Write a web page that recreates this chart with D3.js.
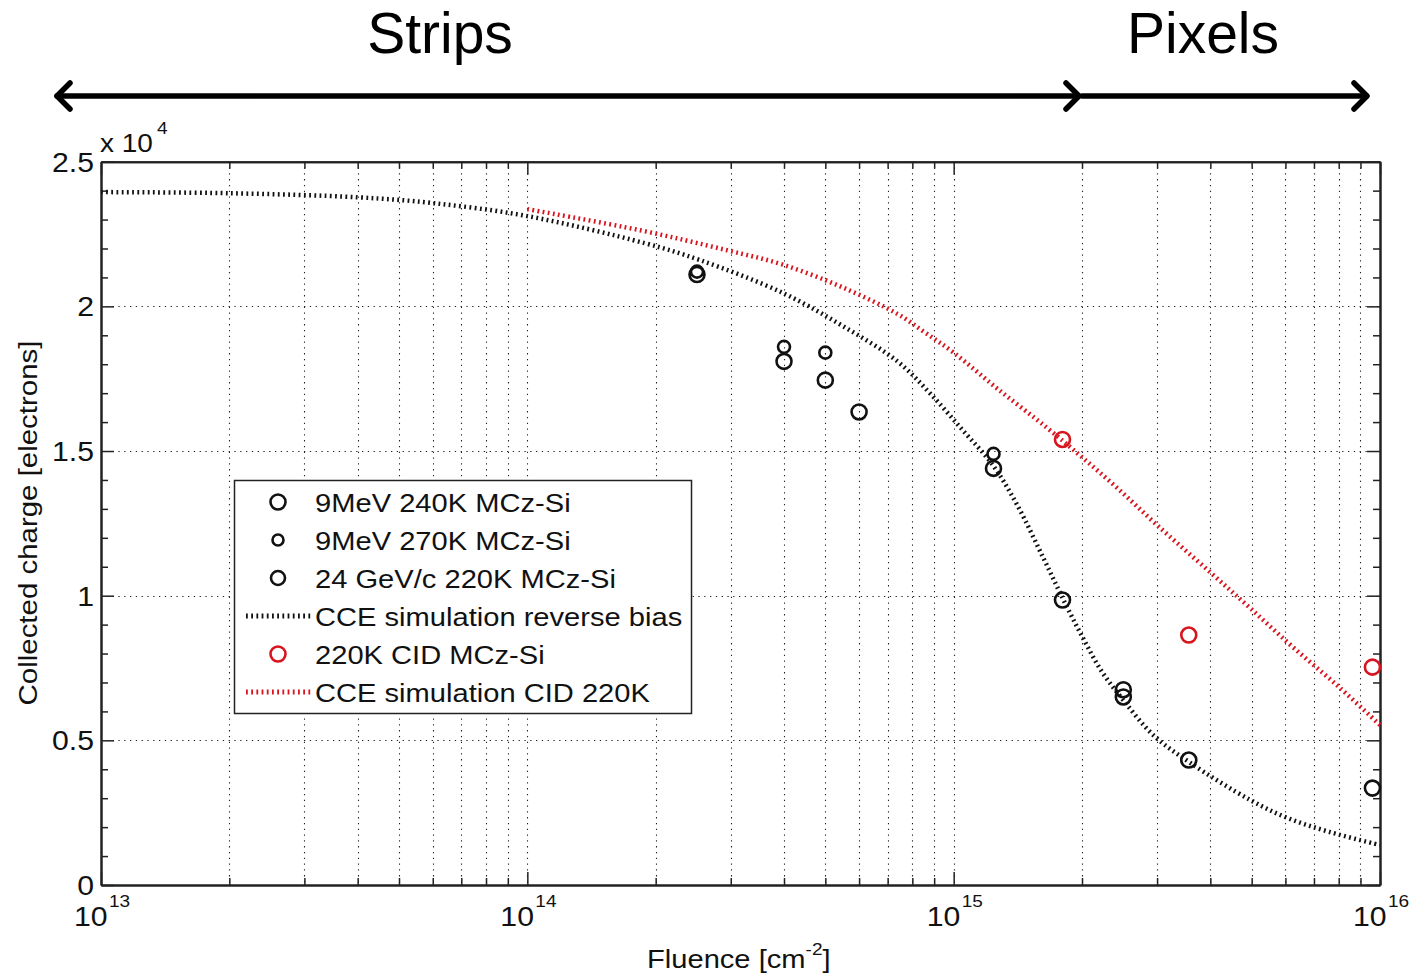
<!DOCTYPE html>
<html>
<head>
<meta charset="utf-8">
<script src="https://cdn.jsdelivr.net/npm/d3@7"></script>
<style>
  body { margin: 0; background: #fff; }
  svg { display: block; }
</style>
</head>
<body>
<div id="canvas"></div>
<script>
// Constants
const w = 1411;
const h = 977;
const plotLeft = 101, plotRight = 1380, plotTop = 161.7, plotBottom = 885;
const font = "'Liberation Sans', Arial, sans-serif";
const stretch = 1.12;

// Data: [fluence cm^-2, collected charge electrons]
const mev240 = [[2.5e14, 21100], [4e14, 18100], [5e14, 17450], [6e14, 16350], [1.24e15, 14400]];
const mev270 = [[2.5e14, 21200], [4e14, 18600], [5e14, 18400], [1.24e15, 14900]];
const gev220 = [[1.8e15, 9850], [2.5e15, 6750], [2.5e15, 6500], [3.56e15, 4320], [9.6e15, 3350]];
const cid220 = [[1.8e15, 15400], [3.56e15, 8640], [9.6e15, 7530]];
const simReverse = [
  [1e13, 23950], [2e13, 23910], [4e13, 23770], [6e13, 23570], [1e14, 23120],
  [1.89e14, 22180], [2.54e14, 21600], [3.98e14, 20460], [5.48e14, 19330], [7.38e14, 18100],
  [8.82e14, 16980], [1.05e15, 15720], [1.236e15, 14510], [1.41e15, 13130], [1.62e15, 11330],
  [1.81e15, 9850], [2.01e15, 8540], [2.23e15, 7360], [2.5e15, 6390], [2.94e15, 5180],
  [3.59e15, 4220], [4.96e15, 2940], [6.06e15, 2320], [7.63e15, 1830], [1e16, 1380]
];
const simCID = [
  [1e14, 23360], [1.84e14, 22630], [2.94e14, 21940], [3.98e14, 21440], [5.48e14, 20660],
  [7.38e14, 19740], [8.54e14, 19110], [1e15, 18400], [1.28e15, 17100], [1.66e15, 15790],
  [2.01e15, 14760], [2.42e15, 13720], [3e15, 12440], [3.99e15, 10820], [4.96e15, 9570],
  [6.25e15, 8220], [8.06e15, 6810], [1e16, 5530]
];
const yTicks = [0, 5000, 10000, 15000, 20000, 25000];
const decades = [13, 14, 15, 16];
const legendLabels = [
  "9MeV 240K MCz-Si", "9MeV 270K MCz-Si", "24 GeV/c 220K MCz-Si",
  "CCE simulation reverse bias", "220K CID MCz-Si", "CCE simulation CID 220K"
];

const red = "#d8141e";

const x = d3.scaleLog().domain([1e13, 1e16]).range([plotLeft, plotRight]);
const y = d3.scaleLinear().domain([0, 25000]).range([plotBottom, plotTop]);

const minorX = [];
decades.slice(0, -1).forEach(d => {
  for (let k = 2; k <= 9; k++) minorX.push(k * Math.pow(10, d));
});
const minorY = d3.range(0, 25001, 1000).filter(v => v % 5000 !== 0);

const svg = d3.select("#canvas").append("svg")
  .attr("width", w)
  .attr("height", h)
  .style("background-color", "white");

// Grid
const grid = svg.append("g")
  .attr("stroke", "#222")
  .attr("stroke-width", 1.1)
  .attr("stroke-dasharray", "1.3,4.5");
grid.selectAll(".vx").data(minorX.concat(decades.slice(1, -1).map(d => Math.pow(10, d))))
  .join("line")
  .attr("x1", d => Math.round(x(d)) + 0.5).attr("x2", d => Math.round(x(d)) + 0.5)
  .attr("y1", plotTop).attr("y2", plotBottom);
grid.selectAll(".hy").data(yTicks.slice(1, -1))
  .join("line")
  .attr("y1", d => Math.round(y(d)) + 0.5).attr("y2", d => Math.round(y(d)) + 0.5)
  .attr("x1", plotLeft).attr("x2", plotRight);

// Axes (ticks pointing inward, mirrored)
function styleAxis(g) {
  g.select(".domain").attr("stroke", "#222").attr("stroke-width", 2);
  g.selectAll(".tick line").attr("stroke", "#222").attr("stroke-width", 1.5);
  g.selectAll(".tick text").remove();
}
const majorX = decades.map(d => Math.pow(10, d));
svg.append("g").attr("transform", `translate(0,${plotBottom})`)
  .call(d3.axisBottom(x).tickValues(majorX).tickSize(-13).tickSizeOuter(0)).call(styleAxis);
svg.append("g").attr("transform", `translate(0,${plotBottom})`)
  .call(d3.axisBottom(x).tickValues(minorX).tickSize(-7).tickSizeOuter(0)).call(styleAxis);
svg.append("g").attr("transform", `translate(0,${plotTop})`)
  .call(d3.axisTop(x).tickValues(majorX).tickSize(-13).tickSizeOuter(0)).call(styleAxis);
svg.append("g").attr("transform", `translate(0,${plotTop})`)
  .call(d3.axisTop(x).tickValues(minorX).tickSize(-7).tickSizeOuter(0)).call(styleAxis);
svg.append("g").attr("transform", `translate(${plotLeft},0)`)
  .call(d3.axisLeft(y).tickValues(yTicks).tickSize(-13).tickSizeOuter(0)).call(styleAxis);
svg.append("g").attr("transform", `translate(${plotLeft},0)`)
  .call(d3.axisLeft(y).tickValues(minorY).tickSize(-7).tickSizeOuter(0)).call(styleAxis);
svg.append("g").attr("transform", `translate(${plotRight},0)`)
  .call(d3.axisRight(y).tickValues(yTicks).tickSize(-13).tickSizeOuter(0)).call(styleAxis);
svg.append("g").attr("transform", `translate(${plotRight},0)`)
  .call(d3.axisRight(y).tickValues(minorY).tickSize(-7).tickSizeOuter(0)).call(styleAxis);

// Text helper with horizontal stretch
function label(px, py, str, size, anchor, rot) {
  return svg.append("text")
    .attr("transform", `translate(${px},${py})` + (rot ? ` rotate(${rot})` : "") + ` scale(${stretch},1)`)
    .attr("text-anchor", anchor || "start")
    .style("font-family", font)
    .style("font-size", size + "px")
    .attr("fill", "#111")
    .text(str);
}

// Y tick labels
yTicks.forEach(v => {
  label(94, y(v) + 10, d3.format("~g")(v / 1e4), 27, "end");
});
// Exponent
label(100, 152, "x 10", 25, "start");
label(157, 134, "4", 17, "start");

// X tick labels
decades.forEach(d => {
  const cx = x(Math.pow(10, d));
  label(cx - 27, 926, "10", 27, "start");
  label(cx + 8, 907, String(d), 17, "start");
});

// Axis titles
const xt = label(647, 968, "Fluence [cm", 26, "start");
xt.append("tspan").attr("dy", -13).style("font-size", "17px").text("-2");
xt.append("tspan").attr("dy", 13).text("]");
label(37, 523, "Collected charge [electrons]", 26.3, "middle", -90);

// Simulation curves
const line = d3.line().x(d => x(d[0])).y(d => y(d[1])).curve(d3.curveCatmullRom.alpha(0.5));
svg.append("path").datum(simReverse)
  .attr("d", line).attr("fill", "none")
  .attr("stroke", "#111").attr("stroke-width", 4.5).attr("stroke-dasharray", "1.8,3.4");
svg.append("path").datum(simCID)
  .attr("d", line).attr("fill", "none")
  .attr("stroke", red).attr("stroke-width", 4.5).attr("stroke-dasharray", "1.8,3.4");

// Data markers
function markers(data, r, color) {
  svg.append("g").selectAll("circle").data(data).join("circle")
    .attr("cx", d => x(d[0])).attr("cy", d => y(d[1]))
    .attr("r", r).attr("fill", "none")
    .attr("stroke", color).attr("stroke-width", 2.6);
}
markers(mev240, 7.5, "#111");
markers(mev270, 6, "#111");
markers(gev220, 7.5, "#111");
markers(cid220, 7.5, red);

// Legend
const lg = svg.append("g");
lg.append("rect")
  .attr("x", 234.5).attr("y", 480.5).attr("width", 457).attr("height", 233)
  .attr("fill", "white").attr("stroke", "#222").attr("stroke-width", 1.5);
const legendStyle = [
  { type: "circle", r: 7.5, color: "#111" },
  { type: "circle", r: 5.5, color: "#111" },
  { type: "circle", r: 7, color: "#111" },
  { type: "line", color: "#111" },
  { type: "circle", r: 7.5, color: red },
  { type: "line", color: red }
];
legendLabels.forEach((t, i) => {
  const ly = 502 + i * 38;
  const s = legendStyle[i];
  if (s.type === "circle") {
    lg.append("circle").attr("cx", 278).attr("cy", ly).attr("r", s.r)
      .attr("fill", "none").attr("stroke", s.color).attr("stroke-width", 2.6);
  } else {
    lg.append("line").attr("x1", 246).attr("x2", 312).attr("y1", ly).attr("y2", ly)
      .attr("stroke", s.color).attr("stroke-width", 5).attr("stroke-dasharray", "1.8,3.4");
  }
  label(315, ly + 9.5, t, 26, "start");
});

// Strips / Pixels arrows
const arrows = svg.append("g").attr("stroke", "#000").attr("fill", "none")
  .attr("stroke-width", 5.5).attr("stroke-linecap", "round").attr("stroke-linejoin", "round");
arrows.append("line").attr("x1", 57).attr("x2", 1078).attr("y1", 96).attr("y2", 96);
arrows.append("line").attr("x1", 1082).attr("x2", 1366).attr("y1", 96).attr("y2", 96);
arrows.append("polyline").attr("points", "70,83 57,96 70,109");
arrows.append("polyline").attr("points", "1066,83 1079,96 1066,109");
arrows.append("polyline").attr("points", "1354,83 1367,96 1354,109");

const topFont = "'Liberation Sans', Arial, sans-serif";
svg.append("text").attr("x", 440).attr("y", 53).attr("text-anchor", "middle")
  .style("font-family", topFont).style("font-size", "57px").text("Strips");
svg.append("text").attr("x", 1203).attr("y", 53).attr("text-anchor", "middle")
  .style("font-family", topFont).style("font-size", "57px").text("Pixels");
</script>
</body>
</html>
